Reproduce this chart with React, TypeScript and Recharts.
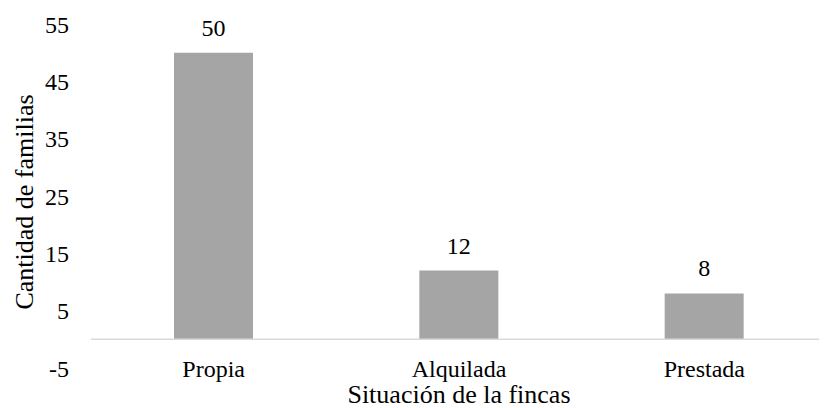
import React from "react";
import { BarChart, Bar, XAxis, YAxis, LabelList, ReferenceLine, Label } from "recharts";

const categories = ["Propia", "Alquilada", "Prestada"];
const familias = [50, 12, 8];
const yTicks = [-5, 5, 15, 25, 35, 45, 55];

const data = categories.map((c, i) => ({ name: c, value: familias[i] }));

const FONT = "Liberation Serif, Times New Roman, serif";
const FS = 24;
const TFS = 26;

const XTick = (props: any) => {
  const { x, y, payload } = props;
  return (
    <text x={x} y={y + 9} textAnchor="middle" fontFamily={FONT} fontSize={FS} fill="#000">
      {payload.value}
    </text>
  );
};

export default function App() {
  return (
    <div style={{ marginLeft: -8, marginTop: -8 }}>
      <BarChart width={827} height={408} data={data} margin={{ top: 24, right: 0, bottom: 0, left: 0 }}>
        <XAxis
          dataKey="name"
          axisLine={false}
          tickLine={false}
          height={40}
          tick={<XTick />}
          tickMargin={0}
          tickSize={0}
        >
          <Label
            content={(p: any) => {
              const vb = p.viewBox || {};
              const cx = (vb.x ?? 91) + (vb.width ?? 736) / 2;
              return (
                <text x={cx} y={403} textAnchor="middle" fontFamily={FONT} fontSize={TFS} fill="#000">
                  Situación de la fincas
                </text>
              );
            }}
          />
        </XAxis>
        <YAxis
          width={91}
          domain={[-5, 55]}
          ticks={yTicks}
          axisLine={false}
          tickLine={false}
          tickMargin={16}
          tick={{ fontFamily: FONT, fontSize: FS, fill: "#000" }}
        >
          <Label
            content={() => (
              <text
                x={24}
                y={202}
                transform="rotate(-90 24 202)"
                textAnchor="middle"
                dominantBaseline="central"
                fontFamily={FONT}
                fontSize={TFS}
                fill="#000"
              >
                Cantidad de familias
              </text>
            )}
          />
        </YAxis>
        <ReferenceLine y={0} stroke="#d9d9d9" strokeWidth={1.5} />
        <Bar dataKey="value" fill="#a5a5a5" barSize={79} isAnimationActive={false}>
          <LabelList dataKey="value" position="top" offset={17} fontFamily={FONT} fontSize={FS} fill="#000" />
        </Bar>
      </BarChart>
    </div>
  );
}
